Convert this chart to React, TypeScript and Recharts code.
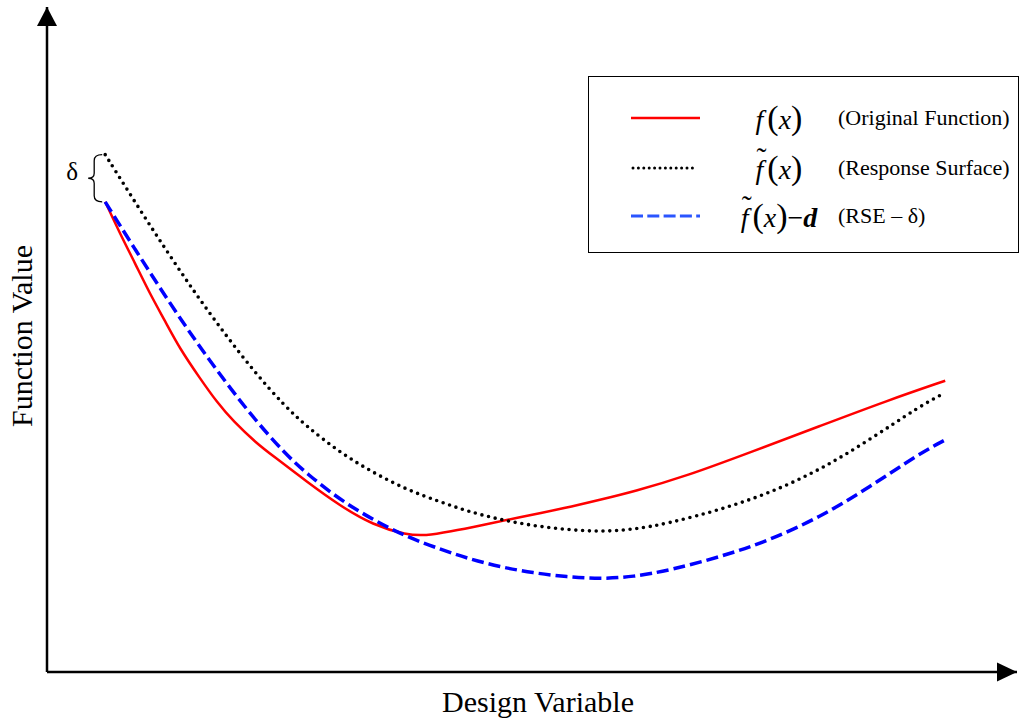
import { LineChart, Line, XAxis, YAxis, Legend, ReferenceDot, ReferenceArea, ReferenceLine } from 'recharts';

// design variable positions (0-100 along the axis) and function values (0-100 up the axis)
const origX = [6.0, 7.5, 9.1, 10.6, 12.2, 13.7, 15.8, 17.5, 19.2, 21.6, 23.3, 26.8, 30.2, 33.6, 37.1, 39.0, 41.5, 44.9, 48.5, 53.6, 57.0, 60.4, 66.0, 72.8, 79.7, 86.6, 92.6];
const origY = [70.7, 66.0, 61.4, 56.9, 52.7, 48.6, 44.1, 40.6, 37.7, 34.4, 32.5, 28.6, 25.0, 22.1, 20.6, 20.5, 21.1, 22.1, 23.2, 24.7, 25.9, 27.1, 29.5, 33.2, 37.0, 40.8, 43.8];

const surfX = [6.0, 9.1, 12.2, 15.3, 18.4, 21.4, 24.5, 26.8, 30.2, 33.6, 37.1, 40.5, 43.3, 46.7, 50.1, 53.6, 57.0, 60.4, 64.2, 69.4, 74.5, 79.7, 84.8, 90.0, 92.6];
const rsY = [77.8, 70.6, 63.6, 56.9, 50.7, 45.1, 40.0, 36.9, 33.0, 30.0, 27.4, 25.6, 24.2, 22.9, 22.0, 21.4, 21.1, 21.4, 22.4, 24.4, 26.9, 30.4, 34.9, 40.0, 42.0];
const rseY = [70.7, 63.5, 56.5, 49.8, 43.6, 38.0, 32.9, 29.8, 25.9, 22.9, 20.3, 18.5, 17.1, 15.8, 14.9, 14.3, 14.0, 14.3, 15.3, 17.3, 19.8, 23.3, 27.8, 32.9, 34.9];

const legendDesc = ['(Original Function)', '(Response Surface)', '(RSE \u2013 \u03b4)'];

const origData = origX.map((x, i) => ({ x, v: origY[i] }));
const rsData = surfX.map((x, i) => ({ x, v: rsY[i] }));
const rseData = surfX.map((x, i) => ({ x, v: rseY[i] }));

const serif = '"Liberation Serif", "Times New Roman", serif';

const ArrowUp = ({ cx, cy }: any) => (
  <polygon points={`${cx},${cy} ${cx - 10},${cy + 19} ${cx + 10},${cy + 19}`} fill="#000" />
);
const ArrowRight = ({ cx, cy }: any) => (
  <polygon points={`${cx},${cy} ${cx - 20},${cy - 9.5} ${cx - 20},${cy + 9.5}`} fill="#000" />
);

const Brace = ({ x, y, width, height }: any) => {
  const r = x + width;
  const y0 = y, y1 = y + height, ym = y + height / 2;
  const d = `M${r - 3},${y0} Q${r - 11},${y0} ${r - 11},${y0 + 6} L${r - 11},${ym - 5} Q${r - 11},${ym} ${r - 17},${ym} Q${r - 11},${ym} ${r - 11},${ym + 5} L${r - 11},${y1 - 6} Q${r - 11},${y1} ${r - 3},${y1}`;
  return (
    <g>
      <path d={d} fill="none" stroke="#000" strokeWidth={1.3} />
      <text x={r - 33} y={ym + 1.5} textAnchor="middle" fontFamily={serif} fontSize={25} fill="#000">δ</text>
    </g>
  );
};

const MathF = ({ tilde, minusD }: { tilde?: boolean; minusD?: boolean }) => (
  <span style={{ fontFamily: serif, fontSize: 28, whiteSpace: 'nowrap', color: '#000' }}>
    <span style={{ position: 'relative', fontStyle: 'italic' }}>
      f
      {tilde && (
        <span style={{ position: 'absolute', left: 1, top: -16, fontStyle: 'normal', fontSize: 30, lineHeight: '40px' }}>˜</span>
      )}
    </span>
    <span style={{ fontSize: 34, marginLeft: 4 }}>(</span>
    <i>x</i>
    <span style={{ fontSize: 34 }}>)</span>
    {minusD && (
      <>
        <span>−</span>
        <b><i>d</i></b>
      </>
    )}
  </span>
);

const Sample = ({ kind }: { kind: number }) => (
  <svg width={72} height={10} style={{ position: 'absolute', left: 42, top: 15 }}>
    {kind === 0 && <line x1={0} y1={5} x2={69} y2={5} stroke="#ff0000" strokeWidth={2.5} />}
    {kind === 1 && (
      <line x1={2} y1={5} x2={66} y2={5} stroke="#000" strokeWidth={3} strokeDasharray="0 5.4" strokeLinecap="round" />
    )}
    {kind === 2 && <line x1={0} y1={5} x2={69} y2={5} stroke="#2a55ff" strokeWidth={3} strokeDasharray="12 4.3" />}
  </svg>
);

const LegendBox = () => (
  <div
    style={{
      width: 431,
      height: 177,
      boxSizing: 'border-box',
      border: '1.5px solid #000',
      background: '#fff',
      position: 'relative',
    }}
  >
    {[0, 1, 2].map((i) => (
      <div key={i} style={{ position: 'absolute', left: 0, top: [21, 71, 119][i], width: 429, height: 40 }}>
        <Sample kind={i} />
        <div style={{ position: 'absolute', left: 100, width: 180, top: 0, height: 40, textAlign: 'center', lineHeight: '40px' }}>
          <MathF tilde={i > 0} minusD={i === 2} />
        </div>
        <div style={{ position: 'absolute', left: 249, top: 0, height: 40, lineHeight: '40px', fontFamily: serif, fontSize: 22, whiteSpace: 'nowrap' }}>
          {legendDesc[i]}
        </div>
      </div>
    ))}
  </div>
);

export default function App() {
  return (
    <div style={{ position: 'absolute', left: 0, top: 0, width: 1021, height: 723, background: '#fff' }}>
      <LineChart width={1021} height={723} margin={{ top: 7, right: 4, bottom: 51, left: 47 }}>
        <XAxis type="number" dataKey="x" domain={[0, 100]} hide allowDataOverflow />
        <YAxis type="number" domain={[0, 100]} hide allowDataOverflow />
        <ReferenceLine segment={[{ x: 0, y: 0 }, { x: 100, y: 0 }]} stroke="#000" strokeWidth={2.5} ifOverflow="visible" />
        <ReferenceLine segment={[{ x: 0, y: 0 }, { x: 0, y: 100 }]} stroke="#000" strokeWidth={2.5} ifOverflow="visible" />
        <Line data={origData} dataKey="v" name="f" type="basis" stroke="#ff0000" strokeWidth={2.5} dot={false} isAnimationActive={false} />
        <Line data={rsData} dataKey="v" name="rs" type="basis" stroke="#000" strokeWidth={3.6} strokeDasharray="0 6.8"
          strokeLinecap="round" dot={false} isAnimationActive={false} />
        <Line data={rseData} dataKey="v" name="rse" type="basis" stroke="#0000ff" strokeWidth={3.5} strokeDasharray="12 5"
          dot={false} isAnimationActive={false} />
        <ReferenceArea x1={4.9} x2={6.0} y1={origY[0]} y2={rsY[0]} ifOverflow="visible" shape={<Brace />} />
        <ReferenceDot x={0} y={100} r={0} ifOverflow="visible" shape={(p: any) => <ArrowUp {...p} />} />
        <ReferenceDot x={100} y={0} r={0} ifOverflow="visible" shape={(p: any) => <ArrowRight {...p} />} />
        <Legend
          layout="vertical"
          align="center"
          verticalAlign="middle"
          wrapperStyle={{ left: 588, top: 76, width: 431, height: 177 }}
          content={() => <LegendBox />}
        />
      </LineChart>
      <div style={{ position: 'absolute', left: 338, width: 400, top: 685, textAlign: 'center', fontFamily: serif, fontSize: 30 }}>
        Design Variable
      </div>
      <div
        style={{
          position: 'absolute',
          left: 22,
          top: 336,
          transform: 'translate(-50%, -50%) rotate(-90deg)',
          fontFamily: serif,
          fontSize: 30,
          whiteSpace: 'nowrap',
        }}
      >
        Function Value
      </div>
    </div>
  );
}
